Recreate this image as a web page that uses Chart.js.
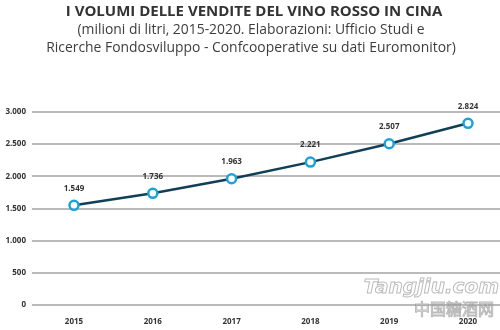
<!DOCTYPE html>
<html>
<head>
<meta charset="utf-8">
<script src="https://cdn.jsdelivr.net/npm/chart.js@4/dist/chart.umd.min.js"></script>
<style>
  html, body { margin: 0; padding: 0; background: #fff; }
</style>
</head>
<body>
<canvas id="chart" width="500" height="330"></canvas>
<script>
const years = ['2015', '2016', '2017', '2018', '2019', '2020'];
const volumes = [1549, 1736, 1963, 2221, 2507, 2824];
const yTicks = [0, 500, 1000, 1500, 2000, 2500, 3000];

const titleText = 'I VOLUMI DELLE VENDITE DEL VINO ROSSO IN CINA';
const subtitleLines = [
    '(milioni di litri, 2015-2020. Elaborazioni: Ufficio Studi e',
    'Ricerche Fondosviluppo - Confcooperative su dati Euromonitor)'
];

const fmt = v => v.toLocaleString('de-DE');

// heading block, drawn by hand so it doesn't squeeze the plot area
const heading = {
    id: 'heading',
    beforeDraw(chart) {
        const { ctx } = chart;
        const cx = chart.width / 2;
        ctx.save();
        ctx.textAlign = 'center';
        ctx.textBaseline = 'middle';
        ctx.fillStyle = '#333';
        ctx.font = 'bold 15px "Open Sans", sans-serif';
        ctx.fillText(titleText, cx + 4, 12);
        ctx.fillStyle = '#3d3d3d';
        ctx.font = '13.9px "Open Sans", sans-serif';
        subtitleLines.forEach((line, i) => ctx.fillText(line, cx + 1, 30 + i * 18));
        ctx.restore();
    }
};

// full-width horizontal rules behind the line, at each y tick
const gridRules = {
    id: 'gridRules',
    beforeDatasetsDraw(chart) {
        const { ctx } = chart;
        const y = chart.scales.y;
        ctx.save();
        ctx.strokeStyle = '#a3a3a3';
        ctx.lineWidth = 1.5;
        yTicks.forEach(t => {
            const py = Math.round(y.getPixelForValue(t));
            ctx.beginPath();
            ctx.moveTo(32, py);
            ctx.lineTo(chart.width, py);
            ctx.stroke();
        });
        ctx.restore();
    }
};

// value labels above each point
const valueLabels = {
    id: 'valueLabels',
    afterDatasetsDraw(chart) {
        const { ctx } = chart;
        const meta = chart.getDatasetMeta(0);
        ctx.save();
        ctx.font = 'bold 8px "Open Sans", sans-serif';
        ctx.fillStyle = '#333';
        ctx.textAlign = 'center';
        ctx.textBaseline = 'middle';
        meta.data.forEach((pt, i) => {
            ctx.fillText(fmt(volumes[i]), pt.x, pt.y - 17);
        });
        ctx.restore();
    }
};

// source watermark in the lower right corner
const watermark = {
    id: 'watermark',
    afterDraw(chart) {
        const { ctx } = chart;
        ctx.save();
        ctx.strokeStyle = 'rgba(120,120,120,0.5)';
        ctx.fillStyle = 'rgba(255,255,255,0.6)';
        ctx.lineWidth = 1;
        ctx.textAlign = 'right';
        ctx.textBaseline = 'middle';
        ctx.font = 'italic bold 20px "DejaVu Sans", sans-serif';
        ctx.fillText('Tangjiu.com', 499, 288);
        ctx.strokeText('Tangjiu.com', 499, 288);
        ctx.font = '16px "Noto Sans CJK SC", sans-serif';
        ctx.fillText('中国糖酒网', 494, 309);
        ctx.strokeText('中国糖酒网', 494, 309);
        ctx.restore();
    }
};

new Chart(document.getElementById('chart'), {
    type: 'line',
    data: {
        labels: years,
        datasets: [{
            data: volumes,
            borderColor: '#103f57',
            borderWidth: 2.5,
            pointRadius: 4.5,
            pointBorderWidth: 2.5,
            pointBackgroundColor: '#fff',
            pointBorderColor: '#1ba3d8',
            tension: 0,
            clip: false
        }]
    },
    options: {
        responsive: false,
        animation: false,
        layout: { padding: { top: 112, right: 32, left: 2, bottom: 0 }, autoPadding: false },
        plugins: {
            legend: { display: false },
            tooltip: { enabled: false },
            title: { display: false }
        },
        scales: {
            x: {
                offset: false,
                grid: { display: false, drawTicks: false },
                border: { display: false },
                ticks: {
                    color: '#333',
                    font: { family: '"Open Sans", sans-serif', size: 8, weight: 'bold' },
                    padding: 12
                },
                afterFit(s) { s.height = 25; }
            },
            y: {
                min: 0,
                max: 3000,
                afterBuildTicks(s) { s.ticks = yTicks.map(v => ({ value: v })); },
                grid: { display: false, drawTicks: false },
                border: { display: false },
                ticks: {
                    color: '#333',
                    font: { family: '"Open Sans", sans-serif', size: 8, weight: 'bold' },
                    padding: 48,
                    callback: v => fmt(v)
                },
                // the wide tick padding would otherwise also pad the plot vertically
                afterFit(s) {
                    s.width = 72;
                    s.paddingTop = 0;
                    s.paddingBottom = 0;
                }
            }
        }
    },
    plugins: [heading, gridRules, valueLabels, watermark]
});
</script>
</body>
</html>
